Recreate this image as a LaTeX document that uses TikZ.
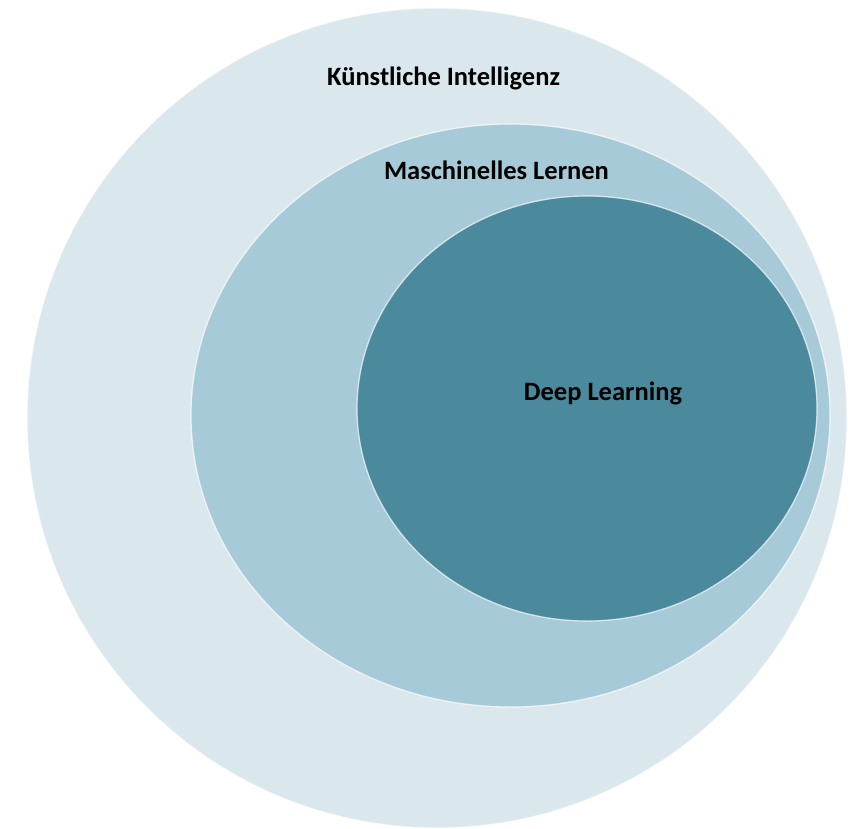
\documentclass[tikz,border=0pt]{standalone}
\usepackage{fontspec}
\setmainfont{Carlito}
\definecolor{aicol}{HTML}{DAE8EE}
\definecolor{mlcol}{HTML}{A7CAD8}
\definecolor{dlcol}{HTML}{4A8A9C}
\tikzset{
  blob/.style={draw=white, draw opacity=0.45, line width=1.2pt},
  lbl/.style={font=\bfseries\fontsize{26.5}{30}\selectfont, text=black, inner sep=0pt, anchor=center}
}
\begin{document}
\begin{tikzpicture}[x=1pt,y=-1pt]
\useasboundingbox (0,0) rectangle (859,828);
\fill[blob, fill=aicol] (437,418) ellipse [x radius=410, y radius=410];
\fill[blob, fill=mlcol] (510.5,415.5) ellipse [x radius=319.5, y radius=291.5];
\fill[blob, fill=dlcol] (587,408.5) ellipse [x radius=230, y radius=212.5];
\draw[blob] (437,418) ellipse [x radius=410, y radius=410];
\draw[blob] (510.5,415.5) ellipse [x radius=319.5, y radius=291.5];
\draw[blob] (587,408.5) ellipse [x radius=230, y radius=212.5];
\node[lbl] (ai) at (443.5,78) {Künstliche Intelligenz};
\node[lbl] (ml) at (496.5,170) {Maschinelles Lernen};
\node[lbl] (dl) at (603,393) {Deep Learning};
\end{tikzpicture}
\end{document}
